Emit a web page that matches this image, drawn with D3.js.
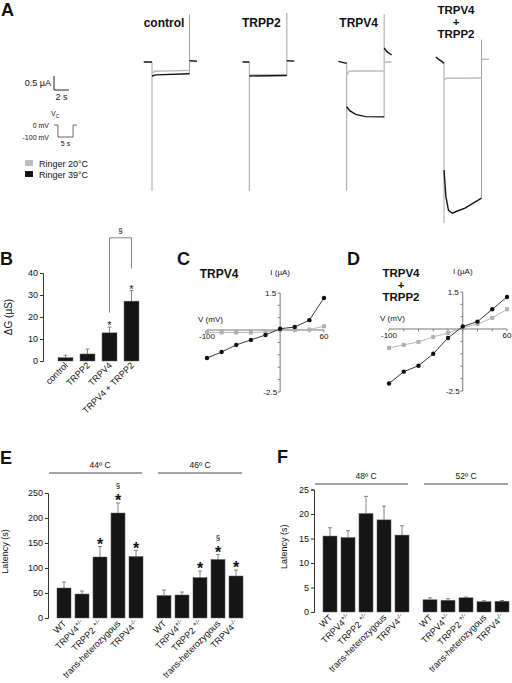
<!DOCTYPE html>
<html><head><meta charset="utf-8">
<script src="https://cdn.jsdelivr.net/npm/d3@7"></script>
<style>
body{margin:0;background:#fff}
svg text{font-family:"Liberation Sans",Arial,Helvetica,sans-serif;fill:#111}
</style>
</head><body>
<svg id="chart" width="512" height="683"></svg>
<script>
// ================= DATA =================
// Panel A: current traces, [time s, current uA], null = pen up
const traceConditions = ["control", "TRPP2", "TRPV4", "TRPV4 + TRPP2"];
const trace20C = [
  [[0,-0.42],[0.3,-0.33],[5,-0.30],null,[5,0.02],[6,0.02]],
  [[0,-0.50],[0.3,-0.45],[5,-0.45],null,[5,0.03],[6,0.03]],
  [[0,-0.48],[0.3,-0.33],[1,-0.32],[5,-0.32],null,[5,0.0],[6,0.0]],
  [[0,-0.66],[0.3,-0.58],[5,-0.57],null,[5,0.1],[6,0.1]]
];
const trace39C = [
  [[-1.1,0],[0,0],null,[0,-0.5],[0.5,-0.46],[5,-0.42],null,[5,0.05],[6,0.03]],
  [[-0.9,0],[0,0],null,[0,-0.5],[5,-0.48],null,[5,0.05],[6,0.03]],
  [[-1.1,0.02],[0,-0.05],null,[0,-1.6],[0.4,-1.74],[1.2,-1.87],[2.5,-1.95],[5,-1.96],null,[5,0.5],[5.4,0.36],[6,0.25]],
  [[-1.1,0.18],[-0.5,0.06],[0,-0.04],null,[0,-3.86],[0.25,-4.8],[0.6,-5.3],[1.1,-5.4],[1.7,-5.33],[2.8,-5.22],[5,-4.86]]
];
const spikeOnBottom = [-4.6, -4.6, -4.6, -5.75];
const spikeOffTop = [1.7, 1.75, 1.7, 0.8];
const spikeOffBottom = [-0.42, -0.5, -1.98, -4.86];
const vcProtocol = [[-1.3,0],[0,0],[0,-100],[5,-100],[5,0],[6.3,0]];

// Panel B
const bCats = ["control", "TRPP2", "TRPV4", "TRPV4 + TRPP2"];
const bMean = [1.5, 3.2, 12.8, 27.2];
const bErr = [2.6, 5.4, 15.4, 32.0];
const bSig = ["", "", "*", "*"];
const bTicks = [0, 10, 20, 30, 40];
const bBracket = {left: 22, top: 56, right: 42};

// Panels C, D: I-V curves
const ivVoltage = [-100, -80, -60, -40, -20, 0, 20, 40, 60];
const cI20 = [-0.1, -0.1, -0.1, -0.1, -0.08, 0.0, 0.0, 0.02, 0.15];
const cI39 = [-1.13, -0.89, -0.6, -0.4, -0.2, 0.05, 0.12, 0.4, 1.3];
const dI20 = [-0.76, -0.64, -0.52, -0.32, -0.16, 0.05, 0.2, 0.45, 0.8];
const dI39 = [-2.2, -1.72, -1.48, -1.0, -0.36, 0.1, 0.3, 0.8, 1.3];

// Panels E, F: latency
const genotypes = ["WT", "TRPV4^+/-", "TRPP2 ^+/-", "trans-heterozygous", "TRPV4^-/-"];
const eGroups = ["44º C", "46º C"];
const e44Mean = [60, 48, 122, 210, 123];
const e44Err = [72, 54, 143, 230, 135];
const e46Mean = [45, 46, 81, 117, 84];
const e46Err = [56, 52, 94, 127, 96];
const e44Sig = ["", "", "*", "§*", "*"];
const e46Sig = ["", "", "*", "§*", "*"];
const eTicks = [0, 50, 100, 150, 200, 250];
const fGroups = ["48º C", "52º C"];
const f48Mean = [15.5, 15.2, 20.1, 18.8, 15.7];
const f48Err = [17.2, 16.6, 23.6, 21.6, 17.6];
const f52Mean = [2.5, 2.4, 2.9, 2.1, 2.2];
const f52Err = [2.9, 2.7, 3.05, 2.3, 2.35];
const fTicks = [0, 5, 10, 15, 20, 25];

// ================= DRAW =================
const svg = d3.select("#chart");
const BLACK = "#151515", GREY = "#bdbdbd", SPIKE = "#9a9a9a";

function txt(g, x, y, s, size, opts = {}) {
  const t = g.append("text").attr("x", x).attr("y", y).attr("font-size", size).text(s);
  if (opts.anchor) t.attr("text-anchor", opts.anchor);
  if (opts.bold) t.attr("font-weight", "bold");
  if (opts.fill) t.style("fill", opts.fill);
  return t;
}
function panelLetter(x, y, s) { txt(svg, x, y, s, 18, {bold: true}); }

// ---------- Panel A ----------
panelLetter(1, 16, "A");
const tA = d3.scaleLinear().domain([0, 1]).range([0, 7.5]);
const iA = d3.scaleLinear().domain([0, -1]).range([62, 90]);
const xA = d3.scalePoint().domain(traceConditions).range([152, 444]);
const gA = svg.append("g");
traceConditions.forEach((c, k) => {
  const x0 = xA(c);
  const ln = d3.line().defined(d => d !== null).x(d => x0 + tA(d[0])).y(d => iA(d[1]));
  gA.append("line").attr("x1", x0).attr("x2", x0).attr("y1", iA(0)).attr("y2", iA(spikeOnBottom[k]))
    .attr("stroke", SPIKE).attr("stroke-width", 0.9);
  gA.append("line").attr("x1", x0 + tA(5)).attr("x2", x0 + tA(5)).attr("y1", iA(spikeOffTop[k])).attr("y2", iA(spikeOffBottom[k]))
    .attr("stroke", SPIKE).attr("stroke-width", 0.9);
  gA.append("path").attr("d", ln(trace20C[k])).attr("fill", "none").attr("stroke", GREY).attr("stroke-width", 1.4);
  gA.append("path").attr("d", ln(trace39C[k])).attr("fill", "none").attr("stroke", BLACK).attr("stroke-width", 1.4);
  const lx = x0 + tA(1.6);
  if (c === "TRPV4 + TRPP2") {
    txt(gA, lx, 14, "TRPV4", 11.5, {anchor: "middle", bold: true});
    txt(gA, lx, 26, "+", 11.5, {anchor: "middle", bold: true});
    txt(gA, lx, 38, "TRPP2", 11.5, {anchor: "middle", bold: true});
  } else {
    txt(gA, lx, 27, c, 12, {anchor: "middle", bold: true});
  }
});
// scale bar
const sbx = 54, sby = 90;
gA.append("path").attr("d", `M${sbx},${sby - (iA(-0.5) - iA(0))}V${sby}H${sbx + tA(2)}`)
  .attr("fill", "none").attr("stroke", "#222").attr("stroke-width", 1);
txt(gA, sbx - 3, 86, "0.5 µA", 9, {anchor: "end"});
txt(gA, sbx + tA(2) / 2, 100, "2 s", 9, {anchor: "middle"});
// voltage protocol
const tV = d3.scaleLinear().domain([-1.3, 6.3]).range([54, 77]);
const vV = d3.scaleLinear().domain([0, -100]).range([125, 137]);
gA.append("path").attr("d", d3.line().x(d => tV(d[0])).y(d => vV(d[1]))(vcProtocol))
  .attr("fill", "none").attr("stroke", "#444").attr("stroke-width", 0.8);
const vc = txt(gA, 51, 116, "V", 7);
vc.append("tspan").attr("font-size", 5).attr("dy", 1.5).text("C");
txt(gA, 49, 128, "0 mV", 7, {anchor: "end"});
txt(gA, 49, 140, "-100 mV", 7, {anchor: "end"});
txt(gA, (tV(0) + tV(5)) / 2, 146, "5 s", 7, {anchor: "middle"});
// legend
[["Ringer 20°C", GREY], ["Ringer 39°C", BLACK]].forEach((d, k) => {
  gA.append("rect").attr("x", 25).attr("y", 160 + k * 11).attr("width", 8).attr("height", 6).attr("fill", d[1]);
  txt(gA, 39, 166.5 + k * 11, d[0], 9);
});

// ---------- Panel B ----------
panelLetter(0, 265, "B");
const gB = svg.append("g");
const xB = d3.scaleBand().domain(bCats).range([54.5, 142.5]).paddingInner(0.32).paddingOuter(0.16);
const yB = d3.scaleLinear().domain([0, 40]).range([361, 273]);
gB.append("g").attr("transform", "translate(43,0)")
  .call(d3.axisLeft(yB).tickValues(bTicks).tickSize(3).tickPadding(2))
  .call(g => { g.select(".domain").attr("stroke", "#333"); g.selectAll("line").attr("stroke", "#333");
               g.selectAll("text").attr("font-size", 9).style("font-family", null).style("fill", "#111"); });
bCats.forEach((c, k) => {
  const x = xB(c), w = xB.bandwidth(), cx = x + w / 2;
  gB.append("line").attr("x1", cx).attr("x2", cx).attr("y1", yB(bMean[k])).attr("y2", yB(bErr[k])).attr("stroke", "#777").attr("stroke-width", 0.9);
  gB.append("line").attr("x1", cx - 2).attr("x2", cx + 2).attr("y1", yB(bErr[k])).attr("y2", yB(bErr[k])).attr("stroke", "#777").attr("stroke-width", 0.9);
  gB.append("rect").attr("x", x).attr("y", yB(bMean[k])).attr("width", w).attr("height", yB(0) - yB(bMean[k]))
    .attr("fill", BLACK).attr("stroke", "#666").attr("stroke-width", 0.5);
  if (bSig[k]) txt(gB, cx, yB(bErr[k]) + 2, "*", 11, {anchor: "middle"});
  txt(gB, cx + 3, 366, c, 9, {anchor: "end"}).attr("transform", `rotate(-45,${cx + 3},366)`);
});
{ // bracket TRPV4 vs TRPV4 + TRPP2
  const x1 = xB("TRPV4") + xB.bandwidth() / 2, x2 = xB("TRPV4 + TRPP2") + xB.bandwidth() / 2;
  gB.append("path").attr("d", `M${x1},${yB(bBracket.left)}V${yB(bBracket.top)}H${x2}V${yB(bBracket.right)}`)
    .attr("fill", "none").attr("stroke", "#666").attr("stroke-width", 0.8);
  txt(gB, (x1 + x2) / 2, yB(bBracket.top) - 5, "§", 8, {anchor: "middle"});
}
txt(gB, 0, 0, "ΔG (µS)", 10, {anchor: "middle"}).attr("transform", `translate(12,${(yB(0) + yB(40)) / 2}) rotate(-90)`);

// ---------- Panels C, D ----------
function ivPanel(letterX, xRange, y0, title, i20, i39) {
  panelLetter(letterX, 265, title === "TRPV4" ? "C" : "D");
  const g = svg.append("g");
  const x = d3.scaleLinear().domain([-100, 60]).range(xRange);
  const y = d3.scaleLinear().domain([-2.5, 0, 1.5]).range([y0 + 62, y0, y0 - 37]);
  g.append("line").attr("x1", x(-100)).attr("x2", x(60)).attr("y1", y(0)).attr("y2", y(0)).attr("stroke", "#555").attr("stroke-width", 0.8);
  g.append("line").attr("x1", x(0)).attr("x2", x(0)).attr("y1", y(-2.5)).attr("y2", y(1.5)).attr("stroke", "#555").attr("stroke-width", 0.8);
  d3.range(-100, 61, 20).forEach(v => g.append("line").attr("x1", x(v)).attr("x2", x(v)).attr("y1", y(0)).attr("y2", y(0) + 2.5).attr("stroke", "#555").attr("stroke-width", 0.7));
  d3.range(-2.5, 1.51, 0.5).forEach(v => g.append("line").attr("x1", x(0) - 2.5).attr("x2", x(0)).attr("y1", y(v)).attr("y2", y(v)).attr("stroke", "#555").attr("stroke-width", 0.7));
  txt(g, x(-100), y(0) + 9, "-100", 8, {anchor: "middle"});
  txt(g, x(60), y(0) + 9, "60", 8, {anchor: "middle"});
  txt(g, x(0) - 4, y(1.5) + 3, "1.5", 8, {anchor: "end"});
  txt(g, x(0) - 3, y(-2.5) + 3, "-2.5", 8, {anchor: "end"});
  txt(g, x(0), y0 - 55, "I (µA)", 8, {anchor: "middle"});
  txt(g, x(-100) - 9, y0 - 8, "V (mV)", 8);
  const tx = x(-100) + 12;
  if (title === "TRPV4") {
    txt(g, tx, y0 - 52, "TRPV4", 12, {anchor: "middle", bold: true});
  } else {
    txt(g, tx, y0 - 52, "TRPV4", 11.5, {anchor: "middle", bold: true});
    txt(g, tx, y0 - 40, "+", 11.5, {anchor: "middle", bold: true});
    txt(g, tx, y0 - 28, "TRPP2", 11.5, {anchor: "middle", bold: true});
  }
  const ln = d3.line().x((d, k) => x(ivVoltage[k])).y(d => y(d));
  g.append("path").attr("d", ln(i20)).attr("fill", "none").attr("stroke", "#b0b0b0").attr("stroke-width", 0.9);
  i20.forEach((d, k) => g.append("rect").attr("x", x(ivVoltage[k]) - 2).attr("y", y(d) - 2).attr("width", 4).attr("height", 4).attr("fill", "#b0b0b0"));
  g.append("path").attr("d", ln(i39)).attr("fill", "none").attr("stroke", "#222").attr("stroke-width", 0.9);
  i39.forEach((d, k) => g.append("circle").attr("cx", x(ivVoltage[k])).attr("cy", y(d)).attr("r", 2.2).attr("fill", "#111"));
}
ivPanel(177, [207, 324], 330, "TRPV4", cI20, cI39);
ivPanel(347, [389, 507], 329, "TRPV4 + TRPP2", dI20, dI39);

// ---------- Panels E, F ----------
function labelWithSup(g, x, y, s, size) {
  const parts = s.split("^");
  const t = g.append("text").attr("x", x).attr("y", y).attr("font-size", size).attr("text-anchor", "end")
    .attr("transform", `rotate(-45,${x},${y})`);
  t.append("tspan").text(parts[0]);
  if (parts[1]) t.append("tspan").attr("font-size", size * 0.72).attr("dy", -size * 0.38).text(parts[1]);
  return t;
}
function latencyPanel(cfg) {
  panelLetter(cfg.letterX, cfg.letterY, cfg.letter);
  const g = svg.append("g");
  const y = d3.scaleLinear().domain([0, cfg.ticks[cfg.ticks.length - 1]]).range([cfg.y0, cfg.yTop]);
  const outer = d3.scaleBand().domain(cfg.groups).range(cfg.range).paddingInner(0.1);
  const inner = d3.scaleBand().domain(genotypes).range([0, outer.bandwidth()]).paddingInner(0.22).paddingOuter(0.11);
  g.append("g").attr("transform", `translate(${cfg.axisX},0)`)
    .call(d3.axisLeft(y).tickValues(cfg.ticks).tickSize(3).tickPadding(2))
    .call(a => { a.select(".domain").attr("stroke", "#333"); a.selectAll("line").attr("stroke", "#333");
                 a.selectAll("text").attr("font-size", 9).style("font-family", null).style("fill", "#111"); });
  txt(g, 0, 0, "Latency (s)", 9, {anchor: "middle"}).attr("transform", `translate(${cfg.ylabX},${(cfg.y0 + cfg.yTop) / 2 - 4}) rotate(-90)`);
  cfg.groups.forEach((grp, gi) => {
    const gx = outer(grp);
    const lineStart = gi === 0 ? cfg.axisX + 1 : gx + 3;
    g.append("line").attr("x1", lineStart).attr("x2", gx + outer.bandwidth() - 3).attr("y1", cfg.tempY).attr("y2", cfg.tempY).attr("stroke", "#333").attr("stroke-width", 0.9);
    txt(g, gx + outer.bandwidth() / 2, cfg.tempY - 5.5, grp, 8.5, {anchor: "middle"});
    const mean = cfg.means[gi], err = cfg.errs[gi], sig = cfg.sigs ? cfg.sigs[gi] : null;
    genotypes.forEach((gt, k) => {
      const x = gx + inner(gt), w = inner.bandwidth(), cx = x + w / 2;
      g.append("line").attr("x1", cx).attr("x2", cx).attr("y1", y(mean[k])).attr("y2", y(err[k])).attr("stroke", "#777").attr("stroke-width", 0.9);
      g.append("line").attr("x1", cx - 2).attr("x2", cx + 2).attr("y1", y(err[k])).attr("y2", y(err[k])).attr("stroke", "#777").attr("stroke-width", 0.9);
      g.append("rect").attr("x", x).attr("y", y(mean[k])).attr("width", w).attr("height", y(0) - y(mean[k]))
        .attr("fill", BLACK).attr("stroke", "#666").attr("stroke-width", 0.5);
      if (sig && sig[k]) {
        const starC = y(err[k]) - 6;
        txt(g, cx, starC + 9, "*", 16, {anchor: "middle", bold: true});
        if (sig[k].includes("§")) txt(g, cx, starC - 9, "§", 8, {anchor: "middle"});
      }
      labelWithSup(g, cx + 3, cfg.y0 + 6, gt, 9);
    });
  });
}
latencyPanel({letter: "E", letterX: 0, letterY: 464, groups: eGroups, range: [55, 245], axisX: 48,
  y0: 618, yTop: 493, ticks: eTicks, means: [e44Mean, e46Mean], errs: [e44Err, e46Err], sigs: [e44Sig, e46Sig],
  tempY: 473, ylabX: 8});
latencyPanel({letter: "F", letterX: 277, letterY: 463, groups: fGroups, range: [321, 511], axisX: 314,
  y0: 612, yTop: 489.5, ticks: fTicks, means: [f48Mean, f52Mean], errs: [f48Err, f52Err], sigs: null,
  tempY: 484, ylabX: 287});
</script>
</body></html>
